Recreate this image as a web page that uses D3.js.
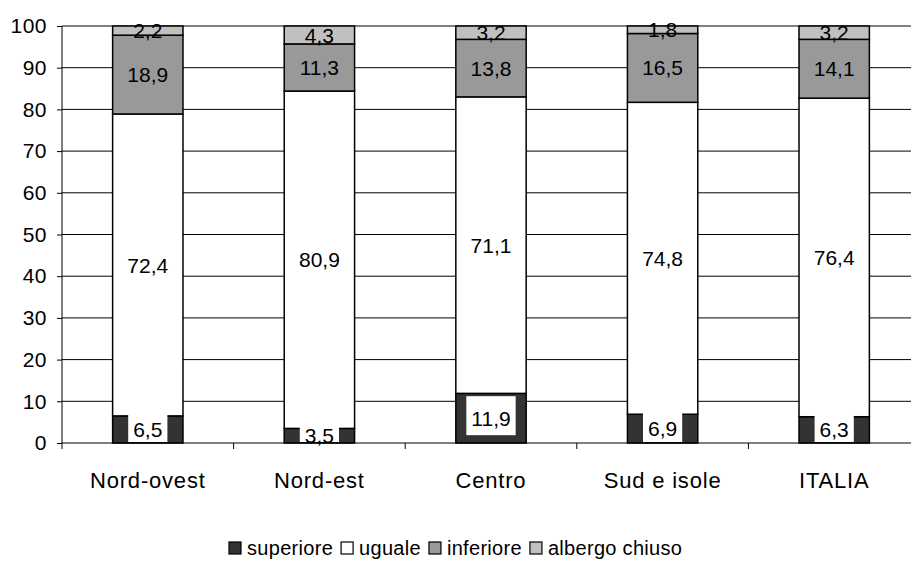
<!DOCTYPE html>
<html>
<head>
<meta charset="utf-8">
<script src="https://d3js.org/d3.v7.min.js"></script>
<style>
body{ margin:0; background:#fff; }
text{ font-family:"Liberation Sans", Arial, sans-serif; fill:#000; }
</style>
</head>
<body>
<svg class="chart" width="911" height="563"></svg>
<script>
// data
var regions = ["Nord-ovest", "Nord-est", "Centro", "Sud e isole", "ITALIA"];
var seriesNames = ["superiore", "uguale", "inferiore", "albergo chiuso"];
var superiore = [6.5, 3.5, 11.9, 6.9, 6.3];
var uguale = [72.4, 80.9, 71.1, 74.8, 76.4];
var inferiore = [18.9, 11.3, 13.8, 16.5, 14.1];
var albergoChiuso = [2.2, 4.3, 3.2, 1.8, 3.2];
var yTicks = [0, 10, 20, 30, 40, 50, 60, 70, 80, 90, 100];

var colors = ["#333333", "#ffffff", "#999999", "#c0c0c0"];

// build table for stack
var table = regions.map(function(r, i){
	return {region: r, "superiore": superiore[i], "uguale": uguale[i],
		"inferiore": inferiore[i], "albergo chiuso": albergoChiuso[i]};
});

var margin = {left: 62, top: 26};
var width = 858;
var height = 417;

var svg = d3.select(".chart");
var chart = svg.append("g")
	.attr("transform", "translate(" + margin.left + "," + margin.top + ")");

var xChart = d3.scaleBand().domain(regions).range([0, width]).paddingInner(0.59).paddingOuter(0.295);
var xBound = d3.scaleBand().domain(regions).range([0, width]);
var yChart = d3.scaleLinear().domain([0, 100]).range([height, 0]);

// gridlines
chart.append("g")
	.selectAll("line")
	.data(yTicks.slice(1))
	.enter().append("line")
	.attr("x1", 0).attr("x2", width)
	.attr("y1", function(d){ return yChart(d); })
	.attr("y2", function(d){ return yChart(d); })
	.attr("stroke", "#000").attr("stroke-width", 1);

var stacked = d3.stack().keys(seriesNames)(table);

// bars
var layers = chart.selectAll(".layer")
	.data(stacked)
	.enter().append("g")
	.attr("class", "layer")
	.attr("fill", function(d, i){ return colors[i]; });

layers.selectAll("rect")
	.data(function(d){ return d; })
	.enter().append("rect")
	.attr("x", function(d){ return xChart(d.data.region); })
	.attr("width", xChart.bandwidth())
	.attr("y", function(d){ return yChart(d[1]); })
	.attr("height", function(d){ return yChart(d[0]) - yChart(d[1]); })
	.attr("stroke", "#000")
	.attr("stroke-width", 1.5);

// labels
var fmt = function(v){ return d3.format(".1f")(v).replace(".", ","); };
var labels = chart.append("g");
stacked.forEach(function(layer, li){
	layer.forEach(function(d){
		var cx = xChart(d.data.region) + xChart.bandwidth() / 2;
		var cy = (yChart(d[0]) + yChart(d[1])) / 2;
		var bg = null;
		if(li === 0){
			bg = labels.append("rect").attr("fill", "#fff");
		}
		var t = labels.append("text")
			.attr("x", cx).attr("y", cy)
			.attr("dy", "0.36em")
			.attr("text-anchor", "middle")
			.style("font-size", "21px")
			.text(fmt(d.data[layer.key]));
		if(bg){
			// white label box, as in the original
			var w = t.node().getComputedTextLength() + 10;
			var top = cy - 22;
			var bottom = Math.min(cy + 17, height - 1);
			bg.attr("x", cx - w / 2).attr("width", w)
				.attr("y", top).attr("height", bottom - top);
		}
	});
});

// left axis
var yAxis = chart.append("g")
	.call(d3.axisLeft(yChart).tickValues(yTicks).tickSize(5).tickPadding(10));
yAxis.select(".domain").attr("stroke", "#000").attr("d", "M0," + height + "V0");
yAxis.selectAll("text").style("font-size", "21px").style("letter-spacing", "0.5px");

// bottom axis
var xAxisG = chart.append("g").attr("transform", "translate(0," + height + ")");
xAxisG.append("line").attr("x1", 0).attr("x2", width).attr("stroke", "#000").attr("stroke-width", 1.2);
xAxisG.selectAll(".tick")
	.data(regions)
	.enter().append("line")
	.attr("x1", function(d){ return xBound(d); })
	.attr("x2", function(d){ return xBound(d); })
	.attr("y1", 0).attr("y2", 6)
	.attr("stroke", "#000");
xAxisG.selectAll(".cat")
	.data(regions)
	.enter().append("text")
	.attr("x", function(d){ return xBound(d) + xBound.bandwidth() / 2; })
	.attr("y", 45)
	.attr("text-anchor", "middle")
	.style("font-size", "22px")
	.style("letter-spacing", "0.8px")
	.text(function(d){ return d; });

// legend
var legend = svg.append("g").attr("transform", "translate(229,548)");
var lx = 0;
seriesNames.forEach(function(name, i){
	var item = legend.append("g").attr("transform", "translate(" + lx + ",0)");
	item.append("rect")
		.attr("x", 0).attr("y", -6).attr("width", 12).attr("height", 12)
		.attr("fill", colors[i]).attr("stroke", "#000").attr("stroke-width", 1.2);
	var t = item.append("text")
		.attr("x", 18).attr("y", 0).attr("dy", "0.36em")
		.style("font-size", "20px")
		.style("letter-spacing", "0.3px")
		.text(name);
	lx += 18 + t.node().getComputedTextLength() + 8;
});
</script>
</body>
</html>
